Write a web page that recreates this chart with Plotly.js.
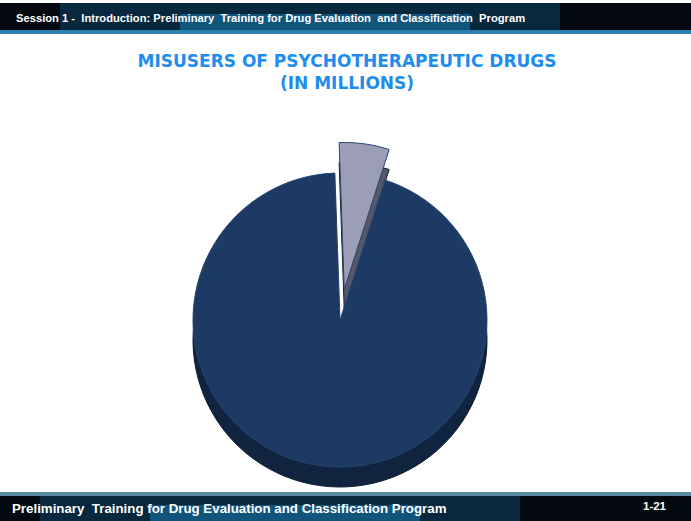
<!DOCTYPE html>
<html><head><meta charset="utf-8">
<script src="https://cdn.plot.ly/plotly-3.0.1.min.js"></script>
<style>html,body{margin:0;padding:0;background:#fff;}#chart{width:691px;height:521px;}</style>
</head><body><div id="chart"></div>
<script>
// Data
var categories = ['Psychotherapeutic drug misusers', 'Other'];
var values = [5.5, 94.5];
var sliceColors = ['#9b9eb6', '#1c3a64'];
var sideColors = ['#55586c', '#10243f'];
var titleText = 'MISUSERS OF PSYCHOTHERAPEUTIC DRUGS<br>(IN MILLIONS)';
var headerText = 'Session 1 -  Introduction: Preliminary  Training for Drug Evaluation  and Classification  Program';
var footerText = 'Preliminary  Training for Drug Evaluation and Classification <b>Program</b>';
var slideNo = '1-21';

var W = 691, H = 521;
function px(x){return x/W;}
function py(y){return 1 - y/H;}

var cx = 340, cy = 320, r = 147, pullAmt = 0.21, drop = 20;
var half = r*(1+pullAmt);

function pieTrace(colors, dy, lineColor){
  return {
    type:'pie', labels:categories, values:values, sort:false,
    direction:'clockwise', rotation:-2, pull:[pullAmt,0],
    marker:{colors:colors, line:{color:lineColor, width:1}},
    textinfo:'none', hoverinfo:'skip', showlegend:false,
    domain:{x:[px(cx-half), px(cx+half)], y:[py(cy+dy+half), py(cy+dy-half)]}
  };
}

var data = [pieTrace(sideColors, drop, '#0a1a30'), pieTrace(sliceColors, 0, '#27466f')];

var shapes = [
  // header
  {type:'rect', xref:'paper', yref:'paper', x0:0, x1:1, y0:py(33), y1:py(3), fillcolor:'#03090f', line:{width:0}, layer:'below'},
  {type:'rect', xref:'paper', yref:'paper', x0:px(60), x1:px(560), y0:py(33), y1:py(3), fillcolor:'rgba(20,100,150,0.35)', line:{width:0}, layer:'below'},
  {type:'rect', xref:'paper', yref:'paper', x0:px(180), x1:px(470), y0:py(33), y1:py(14), fillcolor:'rgba(30,140,200,0.45)', line:{width:0}, layer:'below'},
  {type:'rect', xref:'paper', yref:'paper', x0:0, x1:1, y0:py(34), y1:py(30), fillcolor:'#2a7fae', line:{width:0}, layer:'below'},
  // footer
  {type:'rect', xref:'paper', yref:'paper', x0:0, x1:1, y0:0, y1:py(493), fillcolor:'#03090f', line:{width:0}, layer:'below'},
  {type:'rect', xref:'paper', yref:'paper', x0:px(40), x1:px(520), y0:0, y1:py(493), fillcolor:'rgba(20,100,150,0.35)', line:{width:0}, layer:'below'},
  {type:'rect', xref:'paper', yref:'paper', x0:px(150), x1:px(420), y0:0, y1:py(505), fillcolor:'rgba(30,140,200,0.45)', line:{width:0}, layer:'below'},
  {type:'rect', xref:'paper', yref:'paper', x0:0, x1:1, y0:py(496), y1:py(492), fillcolor:'#5f8aa3', line:{width:0}, layer:'below'}
];

var annotations = [
  {text:headerText, xref:'paper', yref:'paper', x:px(14), y:py(18), xanchor:'left', yanchor:'middle', showarrow:false,
   font:{family:'Liberation Sans, Arial', size:11.2, color:'#ffffff', weight:'bold'}},
  {text:footerText, xref:'paper', yref:'paper', x:px(10), y:py(508), xanchor:'left', yanchor:'middle', showarrow:false,
   font:{family:'Liberation Sans, Arial', size:13.3, color:'#ffffff', weight:'bold'}},
  {text:slideNo, xref:'paper', yref:'paper', x:px(669), y:py(506), xanchor:'right', yanchor:'middle', showarrow:false,
   font:{family:'Liberation Sans, Arial', size:11.5, color:'#ffffff', weight:'bold'}}
];

var layout = {
  width:W, height:H, margin:{l:0,r:0,t:0,b:0},
  paper_bgcolor:'#ffffff', plot_bgcolor:'#ffffff',
  title:{text:titleText, x:px(347), xanchor:'center', y:py(67), yanchor:'middle',
    font:{family:'DejaVu Sans', size:17, color:'#1e8cf0', weight:'bold'}},
  shapes:shapes, annotations:annotations, showlegend:false
};

Plotly.newPlot('chart', data, layout, {displayModeBar:false, staticPlot:true});
</script></body></html>
